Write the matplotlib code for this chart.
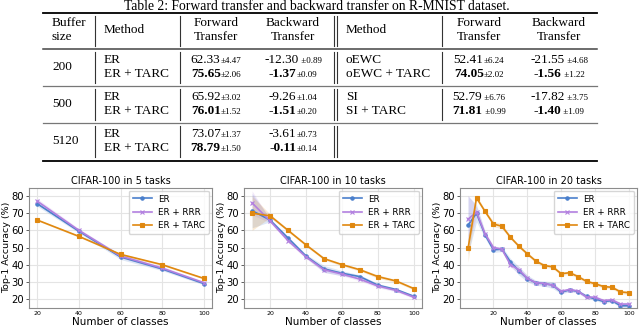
import numpy as np
import matplotlib.pyplot as plt

W, H = 640, 329
fig = plt.figure(figsize=(6.4, 3.29), dpi=100)
fig.patch.set_facecolor('white')

# ---- table values ----
buffer_sizes = ['200', '500', '5120']
fwt_er = ['62.33', '65.92', '73.07']
fwt_er_pm = ['±4.47', '±3.02', '±1.37']
bwt_er = ['-12.30', '-9.26', '-3.61']
bwt_er_pm = [' ±0.89', '±1.04', '±0.73']
fwt_tarc = ['75.65', '76.01', '78.79']
fwt_tarc_pm = ['±2.06', '±1.52', '±1.50']
bwt_tarc = ['-1.37', '-1.51', '-0.11']
bwt_tarc_pm = ['±0.09', '±0.20', '±0.14']
reg_methods = ['oEWC', 'SI']
fwt_reg = ['52.41', '52.79']
fwt_reg_pm = ['±6.24', ' ±6.76']
bwt_reg = ['-21.55', '-17.82']
bwt_reg_pm = [' ±4.68', ' ±3.75']
fwt_reg_tarc = ['74.05', '71.81']
fwt_reg_tarc_pm = ['±2.02', ' ±0.99']
bwt_reg_tarc = ['-1.56', '-1.40']
bwt_reg_tarc_pm = [' ±1.22', ' ±1.09']

# ---- curve values ----
x5 = [20, 40, 60, 80, 100]
er5 = [75.5, 59.5, 44.5, 37.5, 29.0]
rrr5 = [77.0, 60.0, 45.0, 38.0, 29.5]
tarc5 = [66.0, 56.5, 46.0, 40.0, 32.0]
er5_sd = [1.5, 1.0, 1.5, 1.0, 0.8]
rrr5_sd = [1.5, 1.0, 1.0, 1.0, 0.8]
tarc5_sd = [0.5, 0.5, 0.5, 0.5, 0.5]

x10 = [10, 20, 30, 40, 50, 60, 70, 80, 90, 100]
er10 = [71.5, 66.0, 55.5, 45.0, 37.5, 35.0, 33.0, 28.0, 25.5, 21.5]
rrr10 = [76.0, 65.5, 54.0, 44.5, 37.0, 34.5, 31.5, 27.5, 25.0, 21.0]
tarc10 = [70.0, 68.5, 60.0, 51.5, 43.5, 40.0, 37.0, 33.0, 30.5, 26.0]
er10_sd = [10.0, 1.0, 1.0, 1.0, 2.0, 1.5, 1.0, 1.0, 0.8, 0.8]
rrr10_sd = [7.0, 1.0, 1.0, 1.0, 1.5, 1.0, 1.0, 1.0, 0.8, 0.8]
tarc10_sd = [10.0, 1.0, 0.8, 0.8, 0.8, 0.8, 0.8, 1.0, 0.8, 0.8]

x20 = [5, 10, 15, 20, 25, 30, 35, 40, 45, 50, 55, 60, 65, 70, 75, 80, 85, 90, 95, 100]
er20 = [63.0, 70.0, 57.5, 48.6, 49.1, 41.7, 36.4, 31.9, 29.4, 28.9, 28.1, 23.9,
        25.3, 24.3, 21.5, 20.0, 18.5, 19.0, 16.0, 16.0]
rrr20 = [66.5, 70.7, 58.0, 50.0, 49.0, 40.0, 37.0, 32.0, 29.5, 29.0, 28.0, 24.5,
         25.5, 24.5, 21.0, 21.0, 19.0, 19.5, 17.0, 17.0]
tarc20 = [49.5, 79.0, 71.1, 63.7, 62.4, 56.0, 50.8, 46.3, 42.1, 39.5, 38.7, 34.7,
          35.3, 33.0, 30.2, 28.9, 27.2, 26.8, 24.1, 23.6]
er20_sd = [17.0, 5.0, 2.0, 1.5, 1.5, 2.0, 2.5, 2.0, 1.5, 1.5, 2.0, 1.0,
           1.0, 1.0, 1.0, 1.0, 1.0, 1.0, 1.0, 1.0]
rrr20_sd = [14.0, 3.0, 1.5, 1.0, 1.0, 1.5, 2.0, 1.5, 1.0, 1.0, 1.0, 1.0,
            1.0, 1.0, 1.0, 1.0, 1.0, 1.0, 1.0, 1.0]
tarc20_sd = [8.0, 1.5, 1.0, 1.5, 1.5, 1.0, 1.0, 1.0, 1.0, 1.0, 1.0, 1.0,
             1.0, 1.0, 1.0, 1.0, 1.0, 1.0, 1.0, 1.0]

labels = ['ER', 'ER + RRR', 'ER + TARC']
colors = ['#4a7fcc', '#b27fdf', '#e0880f']
markers = ['o', 'x', 's']


def fx(x):
    return x / W


def fy(y):
    return 1 - y / H


serif = 'Liberation Serif'
fs = 9.5
fs_pm = 6.5
rend = fig.canvas.get_renderer()


def txt(x, y, s, ha='left', **kw):
    return fig.text(fx(x), fy(y), s, ha=ha, va='center', family=serif,
                    fontsize=kw.pop('fontsize', fs), **kw)


def cell(xc, y, main, pm, bold=False):
    t1 = txt(0, y, main, weight='bold' if bold else 'normal')
    t2 = txt(0, y + 1, pm, fontsize=fs_pm)
    w1 = t1.get_window_extent(rend).width
    w2 = t2.get_window_extent(rend).width
    x0 = xc - (w1 + w2) / 2
    t1.set_x(fx(x0))
    t2.set_x(fx(x0 + w1))


def hline(y, lw, c='black'):
    fig.add_artist(plt.Line2D([fx(43), fx(597)], [fy(y), fy(y)], lw=lw, color=c))


def vline(x, y0, y1):
    fig.add_artist(plt.Line2D([fx(x), fx(x)], [fy(y0), fy(y1)], lw=0.8, color='#333333'))


txt(317, 6, 'Table 2: Forward transfer and backward transfer on R-MNIST dataset.',
    ha='center', fontsize=9.8)
hline(12.5, 1.3)
hline(49, 1.1, '#444444')
hline(86, 0.9, '#777777')
hline(123, 0.9, '#777777')
hline(160.5, 1.3)

# header
txt(52, 22.5, 'Buffer')
txt(52, 37, 'size')
txt(104, 30, 'Method')
txt(346, 30, 'Method')
for xc, w in [(216, 'Forward'), (293, 'Backward'), (479, 'Forward'), (559, 'Backward')]:
    txt(xc, 22.5, w, ha='center')
    txt(xc, 37, 'Transfer', ha='center')

blocks = [(16, 46)] + [(52 + 37 * i, 83 + 37 * i) for i in range(3)]
for bi, (y0, y1) in enumerate(blocks):
    xs = [95, 180, 334, 336.5]
    if bi < 3:
        xs.append(442)
    for xv in xs:
        vline(xv, y0, y1)

for i, b in enumerate(buffer_sizes):
    ya = 60 + 37 * i
    yb = 74 + 37 * i
    txt(52, (ya + yb) / 2, b)
    txt(104, ya, 'ER')
    txt(104, yb, 'ER + TARC')
    cell(216, ya, fwt_er[i], fwt_er_pm[i])
    cell(216, yb, fwt_tarc[i], fwt_tarc_pm[i], bold=True)
    cell(293, ya, bwt_er[i], bwt_er_pm[i])
    cell(293, yb, bwt_tarc[i], bwt_tarc_pm[i], bold=True)
    if i < len(reg_methods):
        txt(346, ya, reg_methods[i])
        txt(346, yb, reg_methods[i] + ' + TARC')
        cell(479, ya, fwt_reg[i], fwt_reg_pm[i])
        cell(479, yb, fwt_reg_tarc[i], fwt_reg_tarc_pm[i], bold=True)
        cell(559, ya, bwt_reg[i], bwt_reg_pm[i])
        cell(559, yb, bwt_reg_tarc[i], bwt_reg_tarc_pm[i], bold=True)

# ---- charts ----
panels = [
    (29, 212, 'CIFAR-100 in 5 tasks', x5, [er5, rrr5, tarc5], [er5_sd, rrr5_sd, tarc5_sd]),
    (244, 422, 'CIFAR-100 in 10 tasks', x10, [er10, rrr10, tarc10], [er10_sd, rrr10_sd, tarc10_sd]),
    (460, 637, 'CIFAR-100 in 20 tasks', x20, [er20, rrr20, tarc20], [er20_sd, rrr20_sd, tarc20_sd]),
]
top, bot = 187.5, 307.5

for l, r, title, x, ys, sds in panels:
    ax = fig.add_axes([fx(l), fy(bot), (r - l) / W, (bot - top) / H])
    ax.set_axisbelow(True)
    ax.grid(True, color='#e4e4e4', lw=0.8)
    for s in ax.spines.values():
        s.set_color('#8c8c8c')
        s.set_linewidth(0.8)
    x = np.array(x)
    for m, sd, c, mk, lab in zip(ys, sds, colors, markers, labels):
        m = np.array(m)
        sd = np.array(sd)
        ax.fill_between(x, m - sd, m + sd, color=c, alpha=0.18, lw=0)
        ax.plot(x, m, color=c, marker=mk, ms=2.4, mew=0.8, lw=1.2, label=lab)
    ax.set_ylim(15, 85)
    ax.set_yticks([20, 30, 40, 50, 60, 70, 80])
    ax.set_xticks([20, 40, 60, 80, 100])
    ax.tick_params(axis='y', labelsize=7.2, length=2.5, width=0.6, color='#444444', pad=1)
    ax.tick_params(axis='x', labelsize=4.5, length=0, pad=2.5)
    ax.set_title(title, fontsize=7, pad=2.5)
    ax.set_xlabel('Number of classes', fontsize=7.5, labelpad=0.5)
    ax.set_ylabel('Top-1 Accuracy (%)', fontsize=6.8, labelpad=0.5)
    ax.legend(loc='upper right', fontsize=6.3, frameon=True, edgecolor='#cccccc',
              handlelength=2.2, borderpad=0.45, labelspacing=0.5, handletextpad=0.7,
              borderaxespad=0.35)

fig.savefig('out.png', dpi=100)
